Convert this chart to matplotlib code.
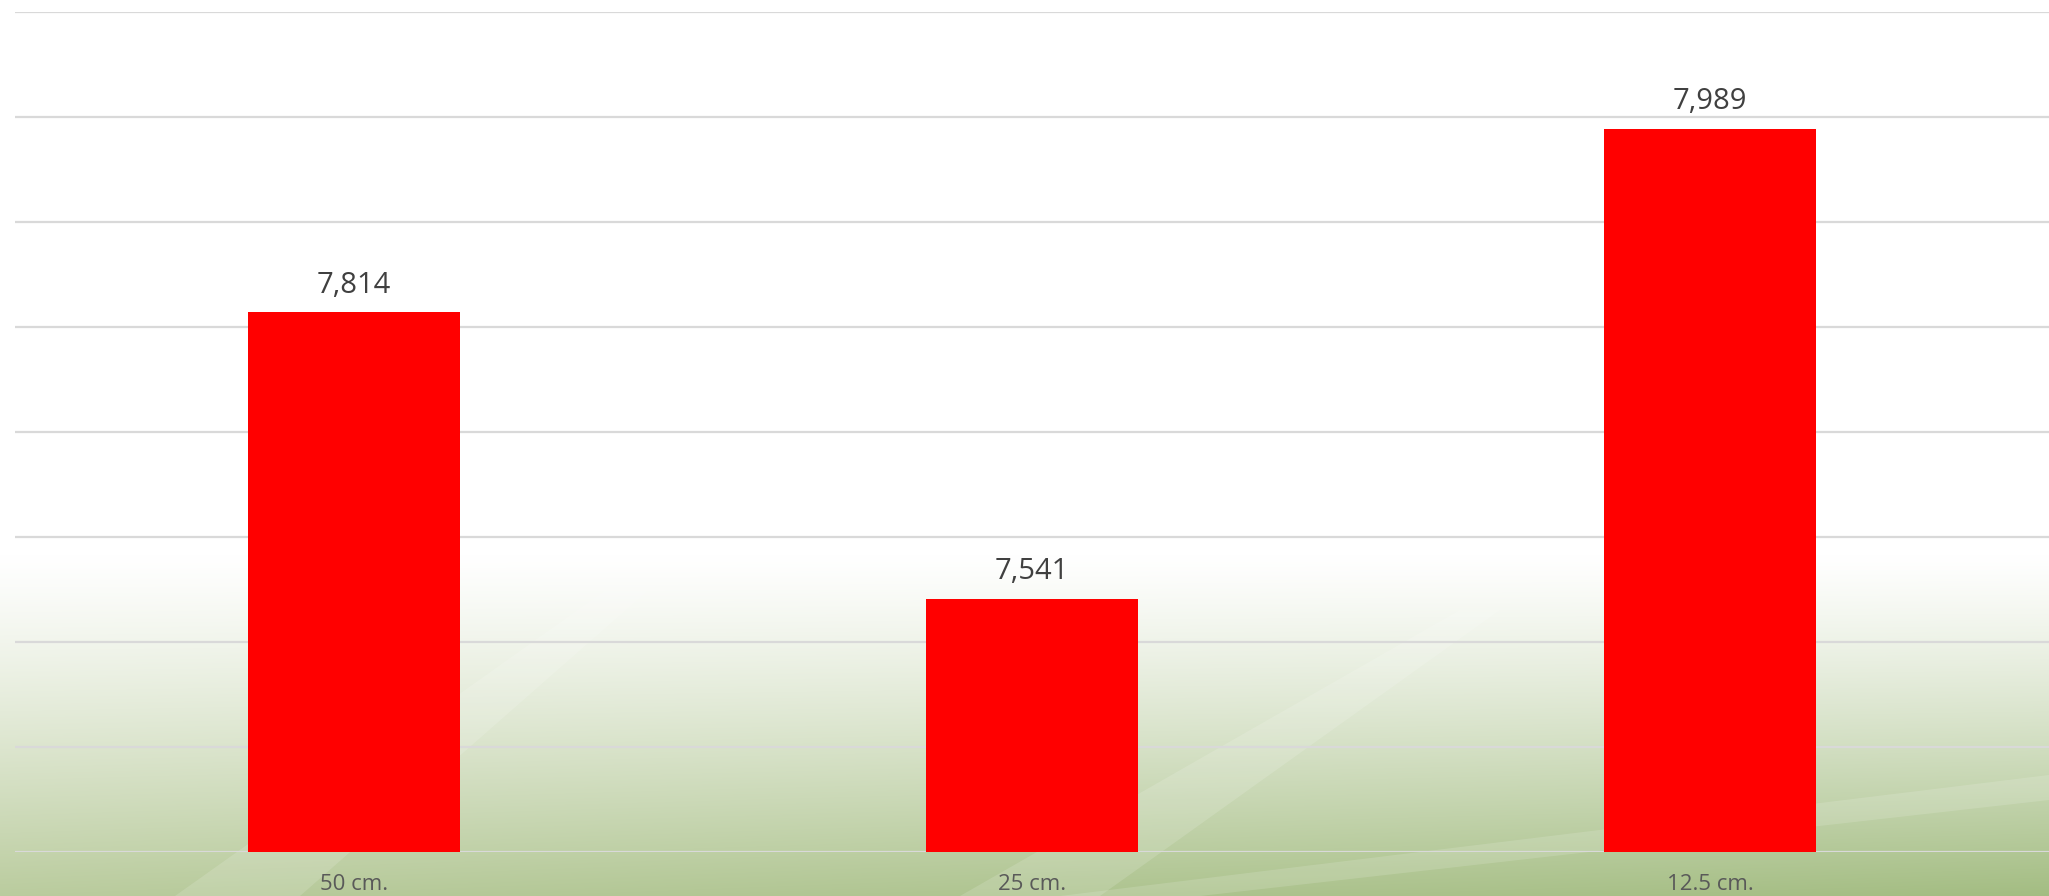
import matplotlib
matplotlib.use('Agg')
import matplotlib.pyplot as plt
import numpy as np
from matplotlib.patches import Polygon

# chart data
categories = ['50 cm.', '25 cm.', '12.5 cm.']
values = [7.814, 7.541, 7.989]
value_labels = ['7,814', '7,541', '7,989']

plt.rcParams['font.family'] = ['Open Sans', 'DejaVu Sans']

W, H = 2049, 896
fig = plt.figure(figsize=(W / 100, H / 100), dpi=100)

# background: white on top fading to green at the bottom
bg = fig.add_axes([0, 0, 1, 1])
bg.set_xlim(0, W)
bg.set_ylim(H, 0)
bg.axis('off')
yy = np.linspace(0, 1, H)[:, None]
xx = np.linspace(0, 1, W)[None, :]
t = np.clip((yy - 0.62) / 0.38, 0, 1) ** 1.2
white = np.array([1.0, 1.0, 1.0])
green_l = np.array([0.73, 0.80, 0.62])
green_r = np.array([0.64, 0.74, 0.51])
green = green_l[None, None, :] * (1 - xx[..., None]) + green_r[None, None, :] * xx[..., None]
img = white[None, None, :] * (1 - t[..., None]) + green * t[..., None]
bg.imshow(img, extent=[0, W, H, 0], aspect='auto', zorder=0)
# soft light diagonal streaks
streaks = [
    [(175, 896), (300, 896), (660, 580), (620, 580)],
    [(960, 896), (1100, 896), (1500, 610), (1460, 610)],
    [(1060, 896), (2049, 775), (2049, 800), (1200, 896)],
]
for pts in streaks:
    bg.add_patch(Polygon(pts, closed=True, facecolor='white', alpha=0.14, edgecolor='none', zorder=1))

ax = fig.add_axes([15 / W, 1 - 852 / H, 1 - 15 / W, (852 - 12) / H])
ax.patch.set_alpha(0)
x = np.arange(len(categories))
ax.bar(x, values, width=0.313, color='#ff0000', zorder=3)
ax.set_xlim(-0.5, len(categories) - 0.5)
ax.set_ylim(7.3, 8.1)
ax.set_yticks(np.arange(7.3, 8.11, 0.1))
ax.yaxis.grid(True, color='#d9d9d9', linewidth=1.6, zorder=0)
ax.tick_params(axis='y', left=False, labelleft=False)
ax.tick_params(axis='x', bottom=False, labelsize=16, labelcolor='#595959', pad=12)
ax.set_xticks(x)
ax.set_xticklabels(categories)
for s in ax.spines.values():
    s.set_visible(False)

for xi, v, lab in zip(x, values, value_labels):
    ax.annotate(lab, (xi, v), xytext=(0, 9), textcoords='offset points',
                ha='center', va='bottom', fontsize=21, color='#404040')

fig.savefig('out.png', dpi=100)
